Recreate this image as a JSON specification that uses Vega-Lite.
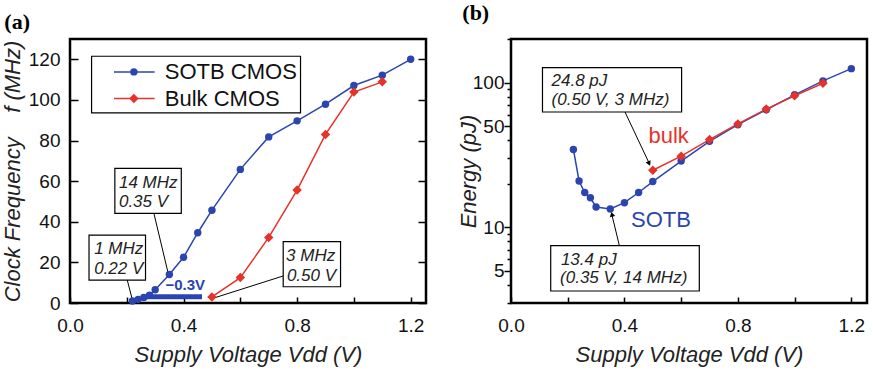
{
  "$schema": "https://vega.github.io/schema/vega-lite/v6.json",
  "background": "white",
  "padding": {"left": 0, "top": 0, "right": 3, "bottom": 0},
  "datasets": {
    "freq": [
      {"V": 0.22, "f": 1, "series": "SOTB CMOS"},
      {"V": 0.24, "f": 1.8, "series": "SOTB CMOS"},
      {"V": 0.26, "f": 2.7, "series": "SOTB CMOS"},
      {"V": 0.28, "f": 3.8, "series": "SOTB CMOS"},
      {"V": 0.30, "f": 6.5, "series": "SOTB CMOS"},
      {"V": 0.35, "f": 14, "series": "SOTB CMOS"},
      {"V": 0.40, "f": 22.5, "series": "SOTB CMOS"},
      {"V": 0.45, "f": 34.6, "series": "SOTB CMOS"},
      {"V": 0.50, "f": 45.7, "series": "SOTB CMOS"},
      {"V": 0.60, "f": 65.8, "series": "SOTB CMOS"},
      {"V": 0.70, "f": 81.8, "series": "SOTB CMOS"},
      {"V": 0.80, "f": 89.7, "series": "SOTB CMOS"},
      {"V": 0.90, "f": 97.9, "series": "SOTB CMOS"},
      {"V": 1.00, "f": 107.1, "series": "SOTB CMOS"},
      {"V": 1.10, "f": 112.2, "series": "SOTB CMOS"},
      {"V": 1.20, "f": 120, "series": "SOTB CMOS"},
      {"V": 0.50, "f": 3, "series": "Bulk CMOS"},
      {"V": 0.60, "f": 12.5, "series": "Bulk CMOS"},
      {"V": 0.70, "f": 32.3, "series": "Bulk CMOS"},
      {"V": 0.80, "f": 55.6, "series": "Bulk CMOS"},
      {"V": 0.90, "f": 83, "series": "Bulk CMOS"},
      {"V": 1.00, "f": 103.9, "series": "Bulk CMOS"},
      {"V": 1.10, "f": 108.9, "series": "Bulk CMOS"}
    ],
    "energy": [
      {"V": 0.22, "E": 34.5, "series": "SOTB CMOS"},
      {"V": 0.24, "E": 20.9, "series": "SOTB CMOS"},
      {"V": 0.26, "E": 17.4, "series": "SOTB CMOS"},
      {"V": 0.28, "E": 16.0, "series": "SOTB CMOS"},
      {"V": 0.30, "E": 13.8, "series": "SOTB CMOS"},
      {"V": 0.35, "E": 13.4, "series": "SOTB CMOS"},
      {"V": 0.40, "E": 14.8, "series": "SOTB CMOS"},
      {"V": 0.45, "E": 17.4, "series": "SOTB CMOS"},
      {"V": 0.50, "E": 20.7, "series": "SOTB CMOS"},
      {"V": 0.60, "E": 28.7, "series": "SOTB CMOS"},
      {"V": 0.70, "E": 39.3, "series": "SOTB CMOS"},
      {"V": 0.80, "E": 51.2, "series": "SOTB CMOS"},
      {"V": 0.90, "E": 64.9, "series": "SOTB CMOS"},
      {"V": 1.00, "E": 82.3, "series": "SOTB CMOS"},
      {"V": 1.10, "E": 102.7, "series": "SOTB CMOS"},
      {"V": 1.20, "E": 124.8, "series": "SOTB CMOS"},
      {"V": 0.50, "E": 24.8, "series": "Bulk CMOS"},
      {"V": 0.60, "E": 31.0, "series": "Bulk CMOS"},
      {"V": 0.70, "E": 40.4, "series": "Bulk CMOS"},
      {"V": 0.80, "E": 51.8, "series": "Bulk CMOS"},
      {"V": 0.90, "E": 65.6, "series": "Bulk CMOS"},
      {"V": 1.00, "E": 81.0, "series": "Bulk CMOS"},
      {"V": 1.10, "E": 99.0, "series": "Bulk CMOS"}
    ],
    "boxA": [
      {"x": 0.076, "x2": 0.812, "y": 93.6, "y2": 121.5},
      {"x": 0.067, "x2": 0.266, "y": 11.3, "y2": 33.4},
      {"x": 0.158, "x2": 0.392, "y": 44.1, "y2": 66.3},
      {"x": 0.751, "x2": 0.953, "y": 8.0, "y2": 30.2}
    ],
    "leadA": [
      {"x": 0.2017, "y": 11.3, "x2": 0.2215, "y2": 0.6},
      {"x": 0.2956, "y": 44.1, "x2": 0.3459, "y2": 14.6},
      {"x": 0.7506, "y": 13.3, "x2": 0.510, "y2": 2.6}
    ],
    "textA": [
      {"x": 0.085, "y": 26.6, "label": "1 MHz"},
      {"x": 0.085, "y": 16.7, "label": "0.22 V"},
      {"x": 0.1724, "y": 59.2, "label": "14 MHz"},
      {"x": 0.1724, "y": 49.7, "label": "0.35 V"},
      {"x": 0.761, "y": 23.1, "label": "3 MHz"},
      {"x": 0.764, "y": 13.4, "label": "0.50 V"}
    ],
    "barA": [
      {"x": 0.27, "x2": 0.465, "y": 3.1, "series": "SOTB CMOS"}
    ],
    "noteA": [
      {"x": 0.336, "y": 8.9, "label": "\u22120.3V", "series": "SOTB CMOS"}
    ],
    "legA": [
      {"x": 0.155, "x2": 0.298, "xm": 0.225, "xt": 0.334, "y": 113.8, "series": "SOTB CMOS"},
      {"x": 0.155, "x2": 0.298, "xm": 0.225, "xt": 0.334, "y": 100.7, "series": "Bulk CMOS"}
    ],
    "boxB": [
      {"x": 0.111, "x2": 0.6016, "y": 62.6, "y2": 126.8},
      {"x": 0.14, "x2": 0.664, "y": 3.63, "y2": 7.48}
    ],
    "arrowB": [
      {"x": 0.402, "y": 62.6, "x2": 0.488, "y2": 27.5},
      {"x": 0.382, "y": 7.48, "x2": 0.355, "y2": 12.4}
    ],
    "headB1": [{"x": 0.487, "y": 27.6}],
    "headB2": [{"x": 0.356, "y": 12.3}],
    "textB": [
      {"x": 0.143, "y": 102.7, "label": "24.8 pJ"},
      {"x": 0.143, "y": 76.0, "label": "(0.50 V, 3 MHz)"},
      {"x": 0.176, "y": 5.90, "label": "13.4 pJ"},
      {"x": 0.173, "y": 4.47, "label": "(0.35 V, 14 MHz)"}
    ],
    "labelB": [
      {"x": 0.556, "y": 43.0, "label": "bulk", "series": "Bulk CMOS"},
      {"x": 0.529, "y": 11.3, "label": "SOTB", "series": "SOTB CMOS"}
    ]
  },
  "hconcat": [
    {
      "width": 356,
      "height": 264,
      "title": {"text": "(a)", "anchor": "start", "dx": 3, "font": "Liberation Serif", "fontWeight": "bold", "fontSize": 22, "offset": 5, "color": "black"},
      "resolve": {"axis": {"x": "independent", "y": "independent"}},
      "layer": [
        {
          "data": {"name": "boxA"},
          "mark": {"type": "rect", "fill": "white", "stroke": "black", "strokeWidth": 1.2},
          "encoding": {
            "x": {"field": "x", "type": "quantitative", "axis": null},
            "x2": {"field": "x2"},
            "y": {"field": "y", "type": "quantitative", "axis": null},
            "y2": {"field": "y2"}
          }
        },
        {
          "data": {"name": "leadA"},
          "mark": {"type": "rule", "color": "black", "strokeWidth": 1},
          "encoding": {
            "x": {"field": "x", "type": "quantitative", "axis": null},
            "x2": {"field": "x2"},
            "y": {"field": "y", "type": "quantitative", "axis": null},
            "y2": {"field": "y2"}
          }
        },
        {
          "data": {"name": "barA"},
          "mark": {"type": "rule", "strokeWidth": 5},
          "encoding": {
            "x": {"field": "x", "type": "quantitative", "axis": null},
            "x2": {"field": "x2"},
            "y": {"field": "y", "type": "quantitative", "axis": null},
            "color": {"field": "series", "type": "nominal", "legend": null}
          }
        },
        {
          "data": {"name": "freq"},
          "mark": {"type": "line", "strokeWidth": 1.5},
          "encoding": {
            "x": {
              "field": "V", "type": "quantitative",
              "scale": {"domain": [0, 1.254], "nice": false, "zero": false},
              "axis": {"title": "Supply Voltage Vdd (V)", "values": [0, 0.2, 0.4, 0.6, 0.8, 1.0, 1.2],
                "labelExpr": "round(datum.value*10)%4==0 ? format(datum.value,'.1f') : ''",
                "tickSize": -6, "labelPadding": 19, "titlePadding": 9}
            },
            "y": {
              "field": "f", "type": "quantitative",
              "scale": {"domain": [0, 130], "nice": false},
              "axis": {"title": "Clock Frequency\u00a0\u00a0\u00a0\u00a0f (MHz)", "values": [0, 20, 40, 60, 80, 100, 120],
                "tickSize": -8, "labelPadding": 18, "titlePadding": 4}
            },
            "color": {"field": "series", "type": "nominal",
              "scale": {"domain": ["SOTB CMOS", "Bulk CMOS"], "range": ["#2b45b0", "#e5332a"]}, "legend": null}
          }
        },
        {
          "data": {"name": "freq"},
          "mark": {"type": "point", "filled": true, "opacity": 1},
          "encoding": {
            "x": {"field": "V", "type": "quantitative", "axis": null},
            "y": {"field": "f", "type": "quantitative",
              "axis": {"orient": "right", "labels": false, "title": null, "values": [0, 20, 40, 60, 80, 100, 120], "tickSize": -8}},
            "color": {"field": "series", "type": "nominal", "legend": null},
            "shape": {"field": "series", "type": "nominal", "scale": {"domain": ["SOTB CMOS", "Bulk CMOS"], "range": ["circle", "diamond"]}, "legend": null},
            "size": {"field": "series", "type": "nominal", "scale": {"domain": ["SOTB CMOS", "Bulk CMOS"], "range": [55, 90]}, "legend": null}
          }
        },
        {
          "data": {"name": "textA"},
          "mark": {"type": "text", "align": "left", "baseline": "middle", "fontStyle": "italic", "fontSize": 17, "color": "#222"},
          "encoding": {
            "x": {"field": "x", "type": "quantitative", "axis": null},
            "y": {"field": "y", "type": "quantitative", "axis": null},
            "text": {"field": "label"}
          }
        },
        {
          "data": {"name": "noteA"},
          "mark": {"type": "text", "align": "left", "baseline": "middle", "fontWeight": "bold", "fontSize": 15},
          "encoding": {
            "x": {"field": "x", "type": "quantitative", "axis": null},
            "y": {"field": "y", "type": "quantitative", "axis": null},
            "text": {"field": "label"},
            "color": {"field": "series", "type": "nominal", "legend": null}
          }
        },
        {
          "data": {"name": "legA"},
          "mark": {"type": "rule", "strokeWidth": 1.5},
          "encoding": {
            "x": {"field": "x", "type": "quantitative", "axis": null},
            "x2": {"field": "x2"},
            "y": {"field": "y", "type": "quantitative", "axis": null},
            "color": {"field": "series", "type": "nominal", "legend": null}
          }
        },
        {
          "data": {"name": "legA"},
          "mark": {"type": "point", "filled": true, "opacity": 1},
          "encoding": {
            "x": {"field": "xm", "type": "quantitative", "axis": null},
            "y": {"field": "y", "type": "quantitative", "axis": null},
            "color": {"field": "series", "type": "nominal", "legend": null},
            "shape": {"field": "series", "type": "nominal", "legend": null},
            "size": {"field": "series", "type": "nominal", "legend": null}
          }
        },
        {
          "data": {"name": "legA"},
          "mark": {"type": "text", "align": "left", "baseline": "middle", "fontSize": 22, "color": "#111"},
          "encoding": {
            "x": {"field": "xt", "type": "quantitative", "axis": null},
            "y": {"field": "y", "type": "quantitative", "axis": null},
            "text": {"field": "series"}
          }
        }
      ]
    },
    {
      "width": 356,
      "height": 264,
      "title": {"text": "(b)", "anchor": "start", "dx": 5, "font": "Liberation Serif", "fontWeight": "bold", "fontSize": 22, "offset": 5, "color": "black"},
      "resolve": {"axis": {"x": "independent", "y": "independent"}},
      "layer": [
        {
          "data": {"name": "boxB"},
          "mark": {"type": "rect", "fill": "white", "stroke": "black", "strokeWidth": 1.2},
          "encoding": {
            "x": {"field": "x", "type": "quantitative", "axis": null},
            "x2": {"field": "x2"},
            "y": {"field": "y", "type": "quantitative", "axis": null},
            "y2": {"field": "y2"}
          }
        },
        {
          "data": {"name": "arrowB"},
          "mark": {"type": "rule", "color": "black", "strokeWidth": 1},
          "encoding": {
            "x": {"field": "x", "type": "quantitative", "axis": null},
            "x2": {"field": "x2"},
            "y": {"field": "y", "type": "quantitative", "axis": null},
            "y2": {"field": "y2"}
          }
        },
        {
          "data": {"name": "energy"},
          "mark": {"type": "line", "strokeWidth": 1.5},
          "encoding": {
            "x": {
              "field": "V", "type": "quantitative",
              "scale": {"domain": [0, 1.2553], "nice": false, "zero": false},
              "axis": {"title": "Supply Voltage Vdd (V)", "values": [0, 0.2, 0.4, 0.6, 0.8, 1.0, 1.2],
                "labelExpr": "round(datum.value*10)%4==0 ? format(datum.value,'.1f') : ''",
                "tickSize": -6, "labelPadding": 19, "titlePadding": 9}
            },
            "y": {
              "field": "E", "type": "quantitative",
              "scale": {"type": "log", "domain": [3, 200], "nice": false},
              "axis": {"title": "Energy (pJ)", "values": [3, 4, 5, 6, 7, 8, 9, 10, 20, 30, 40, 50, 60, 70, 80, 90, 100, 200],
                "labelExpr": "indexof([5,10,50,100], datum.value) >= 0 ? format(datum.value,'d') : ''",
                "tickSize": {"condition": {"test": "indexof([5,10,50,100], datum.value) >= 0", "value": 7}, "value": 4},
                "labelPadding": 0, "titlePadding": -8}
            },
            "color": {"field": "series", "type": "nominal",
              "scale": {"domain": ["SOTB CMOS", "Bulk CMOS"], "range": ["#2b45b0", "#e5332a"]}, "legend": null},
            "order": {"field": "V"}
          }
        },
        {
          "data": {"name": "energy"},
          "mark": {"type": "point", "filled": true, "opacity": 1},
          "encoding": {
            "x": {"field": "V", "type": "quantitative", "axis": null},
            "y": {"field": "E", "type": "quantitative", "axis": null},
            "color": {"field": "series", "type": "nominal", "legend": null},
            "shape": {"field": "series", "type": "nominal", "scale": {"domain": ["SOTB CMOS", "Bulk CMOS"], "range": ["circle", "diamond"]}, "legend": null},
            "size": {"field": "series", "type": "nominal", "scale": {"domain": ["SOTB CMOS", "Bulk CMOS"], "range": [55, 90]}, "legend": null}
          }
        },
        {
          "data": {"name": "headB1"},
          "mark": {"type": "point", "shape": "triangle-down", "angle": 335, "size": 30, "filled": true, "color": "black", "opacity": 1},
          "encoding": {
            "x": {"field": "x", "type": "quantitative", "axis": null},
            "y": {"field": "y", "type": "quantitative", "axis": null}
          }
        },
        {
          "data": {"name": "headB2"},
          "mark": {"type": "point", "shape": "triangle-up", "angle": 347, "size": 30, "filled": true, "color": "black", "opacity": 1},
          "encoding": {
            "x": {"field": "x", "type": "quantitative", "axis": null},
            "y": {"field": "y", "type": "quantitative", "axis": null}
          }
        },
        {
          "data": {"name": "textB"},
          "mark": {"type": "text", "align": "left", "baseline": "middle", "fontStyle": "italic", "fontSize": 17, "color": "#222"},
          "encoding": {
            "x": {"field": "x", "type": "quantitative", "axis": null},
            "y": {"field": "y", "type": "quantitative", "axis": null},
            "text": {"field": "label"}
          }
        },
        {
          "data": {"name": "labelB"},
          "mark": {"type": "text", "align": "center", "baseline": "middle", "fontSize": 22},
          "encoding": {
            "x": {"field": "x", "type": "quantitative", "axis": null},
            "y": {"field": "y", "type": "quantitative", "axis": null},
            "text": {"field": "label"},
            "color": {"field": "series", "type": "nominal", "legend": null}
          }
        }
      ]
    }
  ],
  "spacing": 85,
  "bounds": "flush",
  "config": {
    "view": {"stroke": "black", "strokeWidth": 2.5},
    "font": "Liberation Sans",
    "title": {"font": "Liberation Serif"},
    "axis": {
      "domain": false, "grid": false,
      "labelFont": "Liberation Sans", "labelFontSize": 19, "labelColor": "#111",
      "titleFont": "Liberation Sans", "titleFontSize": 22, "titleFontStyle": "italic", "titleFontWeight": "normal", "titleColor": "#222",
      "tickColor": "black", "tickWidth": 1.5,
      "labelFlush": false, "labelOverlap": false
    }
  }
}
